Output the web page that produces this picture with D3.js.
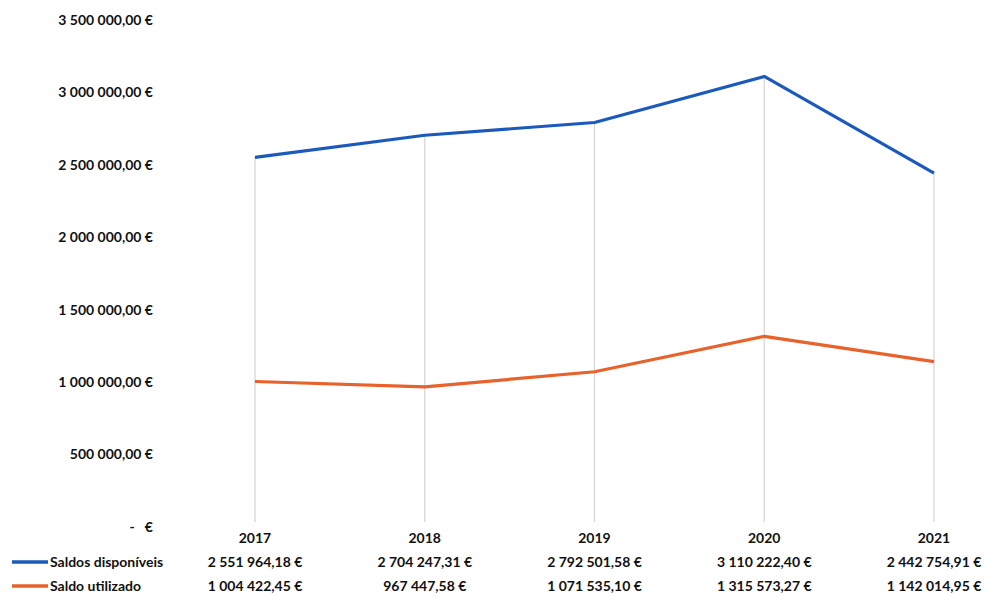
<!DOCTYPE html>
<html>
<head>
<meta charset="utf-8">
<script src="https://cdn.jsdelivr.net/npm/d3@7.9.0/dist/d3.min.js"></script>
<style>
  body { margin: 0; background: #fff; }
  svg { display: block; font-family: Lato, "Open Sans", sans-serif; font-weight: 700; fill: #111; }
  text { white-space: pre; }
</style>
</head>
<body>
<div id="chart"></div>
<script>
const years = ['2017', '2018', '2019', '2020', '2021'];
const disponiveis = [2551964.18, 2704247.31, 2792501.58, 3110222.40, 2442754.91];
const utilizado = [1004422.45, 967447.58, 1071535.10, 1315573.27, 1142014.95];
const yTicks = [0, 500000, 1000000, 1500000, 2000000, 2500000, 3000000, 3500000];

const series = [
  { name: 'Saldos disponíveis', values: disponiveis, color: '#1c59bd' },
  { name: 'Saldo utilizado', values: utilizado, color: '#e8622c' },
];

const width = 984;
const height = 593;

const pt = d3.formatLocale({ decimal: ',', thousands: ' ', grouping: [3] });
const fmt = (v) => (v === 0 ? '-   €' : pt.format(',.2f')(v) + ' €');

const svg = d3.select('#chart')
  .append('svg')
  .attr('width', width)
  .attr('height', height);

const x = d3.scalePoint().domain(years).range([255, 934]);
const y = d3.scaleLinear().domain([0, 3500000]).range([527, 20]);

// y labels only, no axis line
svg.append('g')
  .selectAll('text')
  .data(yTicks)
  .join('text')
  .attr('x', 153)
  .attr('y', (d) => y(d))
  .attr('dy', '0.35em')
  .attr('text-anchor', 'end')
  .attr('font-size', 14)
  .text(fmt);

// drop lines from the highest point of each year down to the baseline
svg.append('g')
  .selectAll('line')
  .data(years)
  .join('line')
  .attr('x1', (d) => x(d))
  .attr('x2', (d) => x(d))
  .attr('y1', (d, i) => y(d3.max(series, (s) => s.values[i])))
  .attr('y2', 522)
  .attr('stroke', '#d4d4d4')
  .attr('stroke-width', 1.2);

const line = d3.line()
  .x((d, i) => x(years[i]))
  .y((d) => y(d));

svg.append('g')
  .selectAll('path')
  .data(series)
  .join('path')
  .attr('d', (s) => line(s.values))
  .attr('fill', 'none')
  .attr('stroke', (s) => s.color)
  .attr('stroke-width', 3.2)
  .attr('stroke-linejoin', 'round');

// category labels
svg.append('g')
  .selectAll('text')
  .data(years)
  .join('text')
  .attr('x', (d) => x(d))
  .attr('y', 538)
  .attr('dy', '0.35em')
  .attr('text-anchor', 'middle')
  .attr('font-size', 14)
  .text((d) => d);

// data table with legend keys
const rows = svg.append('g')
  .selectAll('g')
  .data(series)
  .join('g')
  .attr('transform', (d, i) => `translate(0, ${562 + i * 24})`);

rows.append('line')
  .attr('x1', 12)
  .attr('x2', 48)
  .attr('stroke', (s) => s.color)
  .attr('stroke-width', 3.5);

rows.append('text')
  .attr('x', 50)
  .attr('dy', '0.33em')
  .attr('font-size', 14)
  .text((s) => s.name);

rows.selectAll('text.val')
  .data((s) => s.values)
  .join('text')
  .attr('class', 'val')
  .attr('x', (d, i) => x(years[i]))
  .attr('dy', '0.33em')
  .attr('text-anchor', 'middle')
  .attr('font-size', 14)
  .text(fmt);
</script>
</body>
</html>
